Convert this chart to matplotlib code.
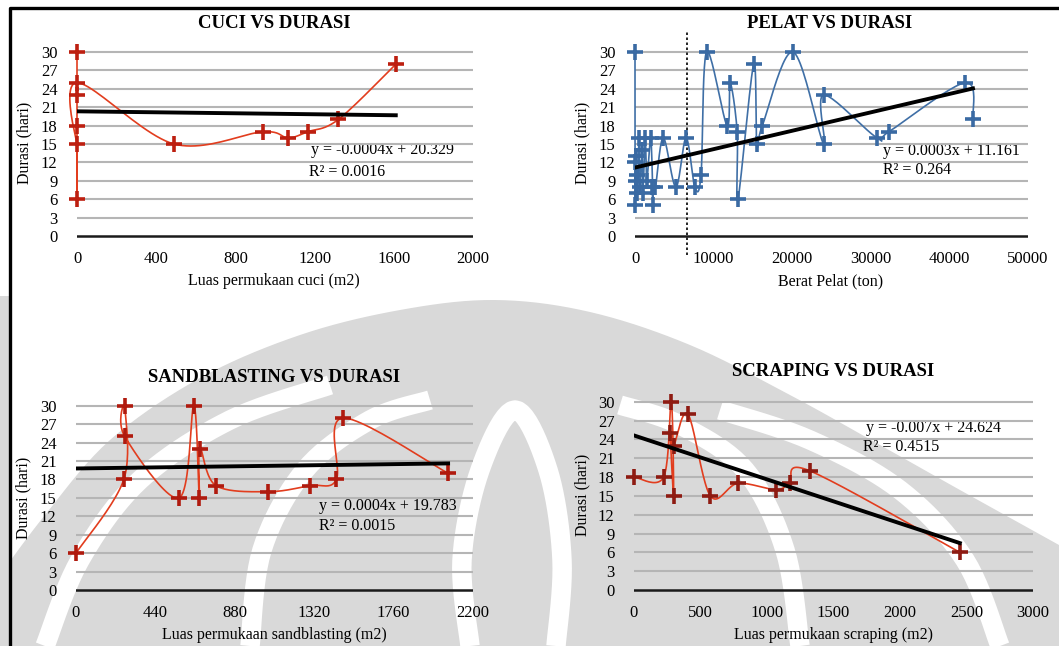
import numpy as np
import matplotlib.pyplot as plt
from matplotlib.patches import Polygon

plt.rcParams['font.family'] = ['Liberation Serif', 'DejaVu Serif']

# data: luas / berat vs durasi (hari)
cuci_x = [0, 0, 0, 0, 0, 0, 490, 940, 1065, 1165, 1320, 1610]
cuci_y = [30, 6, 18, 23, 15, 25, 15, 17, 16, 17, 19, 28]
cuci_fit = (-0.0004, 20.329, 0.0016)

pelat_x = [0, 0, 100, 0, 200, 100, 300, 500, 600, 900, 1000, 1300, 1500, 2000,
           2300, 2200, 2600, 3600, 5200, 6500, 7600, 8400, 9100, 11700, 12100,
           13000, 13100, 15100, 15500, 16200, 20100, 24000, 24000, 30800, 32300,
           42000, 43000]
pelat_y = [30, 5, 13, 12, 10, 9, 7, 16, 8, 14, 7, 16, 9, 16,
           5, 8, 8, 16, 8, 16, 8, 10, 30, 18, 25,
           17, 6, 28, 15, 18, 30, 15, 23, 16, 17,
           25, 19]
pelat_fit = (0.0003, 11.161, 0.264)
pelat_batas = 6600

sand_x = [0, 265, 270, 270, 572, 653, 683, 687, 775, 1065, 1296, 1443, 1480, 2062]
sand_y = [6, 18, 30, 25, 15, 30, 15, 23, 17, 16, 17, 18, 28, 19]
sand_fit = (0.0004, 19.783, 0.0015)

scrap_x = [0, 223, 280, 298, 273, 298, 406, 574, 782, 1065, 1170, 1320, 2450]
scrap_y = [18, 18, 30, 15, 25, 23, 28, 15, 17, 16, 17, 19, 6]
scrap_fit = (-0.007, 24.624, 0.4515)

W, H = 1059, 646


def smooth(xs, ys, n=24):
    # bezier smoothing through every point (like excel smoothed lines)
    p = np.column_stack([xs, ys]).astype(float)
    p = np.vstack([p[0], p, p[-1]])
    t = np.linspace(0, 1, n)[:, None]
    segs = []
    for i in range(1, len(p) - 2):
        p0, p1, p2, p3 = p[i - 1], p[i], p[i + 1], p[i + 2]
        c1 = p1 + (p2 - p0) / 6
        c2 = p2 - (p3 - p1) / 6
        segs.append((1 - t) ** 3 * p1 + 3 * (1 - t) ** 2 * t * c1
                    + 3 * (1 - t) * t ** 2 * c2 + t ** 3 * p2)
    return np.vstack(segs)


fig = plt.figure(figsize=(W / 100, H / 100), dpi=100)

# background layer in pixel units (watermark, frame, texts)
bg = fig.add_axes([0, 0, 1, 1], zorder=0)
bg.set_xlim(0, W)
bg.set_ylim(H, 0)
bg.axis('off')

wm = '#d9d9d9'
outer = [(0, 575), (45, 515), (110, 440), (200, 378), (300, 335), (400, 310),
         (495, 300), (590, 312), (690, 345), (790, 395), (880, 445), (960, 490),
         (1059, 545)]
o = smooth([p[0] for p in outer], [p[1] for p in outer], 10)
o = np.vstack([o, [(W, H), (0, H)]])
bg.add_patch(Polygon(o, closed=True, fc=wm, ec='none'))
bg.add_patch(Polygon([(0, 296), (10, 296), (10, H), (0, H)], fc=wm, ec='none'))

stripes = [
    [(45, 646), (80, 560), (140, 480), (230, 420), (330, 385)],
    [(1000, 646), (965, 560), (900, 490), (810, 440), (720, 410)],
    [(250, 646), (262, 550), (305, 470), (370, 420), (430, 400)],
    [(800, 646), (785, 550), (745, 470), (680, 425), (620, 405)],
    [(470, 646), (462, 560), (480, 470), (515, 410), (548, 470), (562, 560), (556, 646)],
]
for s in stripes:
    c = smooth([p[0] for p in s], [p[1] for p in s], 12)
    bg.plot(c[:, 0], c[:, 1], color='white', lw=14, solid_capstyle='butt')

bg.plot([10, 10, W], [H, 8, 8], color='black', lw=2.4)


def make_axes(x0, x1, y0, y30, xmax, step):
    ppu = (y0 - y30) / 30
    lo, hi = y0 + 0.4 * ppu, y30 - 0.4 * ppu
    ax = fig.add_axes([x0 / W, 1 - lo / H, (x1 - x0) / W, (lo - hi) / H], zorder=2)
    ax.set_xlim(0, xmax)
    ax.set_ylim(-0.4, 30.4)
    ax.patch.set_alpha(0)
    for sp in ax.spines.values():
        sp.set_visible(False)
    ax.set_yticks(np.arange(0, 31, 3))
    ax.set_xticks(np.arange(0, xmax + 1, step))
    ax.tick_params(length=0, labelsize=12, pad=0)
    ax.tick_params(axis='y', pad=14)
    ax.tick_params(axis='x', pad=9)
    for v in range(3, 31, 3):
        ax.axhline(v, color='#b5b5b5', lw=1.5, zorder=1)
    ax.axhline(0, color='#1a1a1a', lw=1.8, zorder=1)
    return ax


def draw(ax, xs, ys, fit, line_c, mark_c):
    c = smooth(xs, ys)
    ax.plot(c[:, 0], c[:, 1], color=line_c, lw=1.2, zorder=3, clip_on=False)
    ax.plot(xs, ys, ls='none', marker='+', ms=12, mew=2.6, color=mark_c,
            zorder=4, clip_on=False)
    m, b, r2 = fit
    tx = np.array([min(xs), max(xs)])
    ax.plot(tx, m * tx + b, color='black', lw=2.8, zorder=5)


ax1 = make_axes(77, 473, 236, 52, 2000, 400)
draw(ax1, cuci_x, cuci_y, cuci_fit, '#e23d1e', '#bd1f10')

ax2 = make_axes(635, 1028, 236, 52, 50000, 10000)
draw(ax2, pelat_x, pelat_y, pelat_fit, '#3f6fa6', '#3a6aa3')
ax2.plot([pelat_batas, pelat_batas], [-3.1, 33.6], color='black', ls=(0, (1.5, 1.5)),
         lw=1.2, clip_on=False, zorder=2)

ax3 = make_axes(76, 473, 590, 405.7, 2200, 440)
draw(ax3, sand_x, sand_y, sand_fit, '#e23d1e', '#b01a0e')

ax4 = make_axes(634, 1033, 590, 401.7, 3000, 500)
draw(ax4, scrap_x, scrap_y, scrap_fit, '#e23d1e', '#8e1b12')

# titles, axis titles, trend equations
titles = ['CUCI VS DURASI', 'PELAT VS DURASI', 'SANDBLASTING VS DURASI', 'SCRAPING VS DURASI']
xlabels = ['Luas permukaan cuci (m2)', 'Berat Pelat (ton)',
           'Luas permukaan sandblasting (m2)', 'Luas permukaan scraping (m2)']
title_pos = [(274, 24), (830, 24), (274, 377), (833, 372)]
xlab_pos = [(274, 281), (831, 281), (274, 635), (833, 635)]
ylab_pos = [(24, 143), (582, 143), (23, 498), (582, 495)]
eq_pos = [(311, 150, 309, 172), (883, 151, 883, 170), (319, 506, 319, 526),
          (866, 428, 863, 447)]
fits = [cuci_fit, pelat_fit, sand_fit, scrap_fit]

for i in range(4):
    bg.text(*title_pos[i], titles[i], ha='center', va='center', fontsize=13.5,
            fontweight='bold', zorder=6)
    bg.text(*xlab_pos[i], xlabels[i], ha='center', va='center', fontsize=11.5)
    bg.text(*ylab_pos[i], 'Durasi (hari)', ha='center', va='center',
            fontsize=11.5, rotation=90)
    m, b, r2 = fits[i]
    sign = '-' if m < 0 else ''
    ex, ey, rx, ry = eq_pos[i]
    eq = 'y = %s%sx + %.3f' % (sign, ('%g' % abs(m)) if abs(m) >= 0.001 else ('%.4f' % abs(m)), b)
    bg.text(ex, ey, eq, ha='left', va='center', fontsize=11.5, zorder=6)
    bg.text(rx, ry, 'R² = %g' % r2, ha='left', va='center', fontsize=11.5, zorder=6)

fig.savefig('out.png', dpi=100)
